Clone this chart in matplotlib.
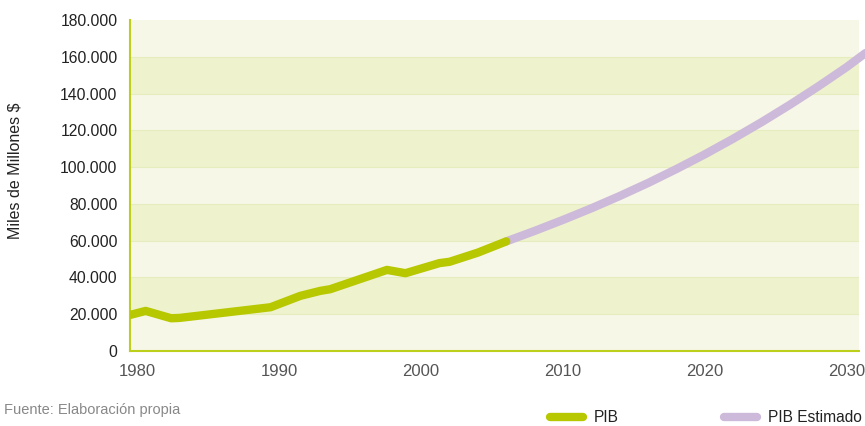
import matplotlib
matplotlib.use("Agg")
import matplotlib.pyplot as plt
from matplotlib.ticker import FuncFormatter

plt.rcParams['font.family'] = ['Liberation Sans', 'DejaVu Sans']

# PIB observado (miles de millones $)
pib_years = [1979.5, 1980.6, 1982.4, 1983.0, 1989.4, 1991.5, 1992.9, 1993.6,
             1997.6, 1998.9, 2001.3, 2002.0, 2004.0, 2006.0]
pib_values = [19600, 21800, 17800, 18000, 23800, 30000, 32700, 33600,
              44100, 42300, 47800, 48500, 53500, 59600]

# PIB estimado
est_years = [2006.0, 2008, 2010, 2012, 2014, 2016, 2018, 2020, 2022, 2024,
             2026, 2028, 2030, 2031.3]
est_values = [59600, 65300, 71300, 77600, 84300, 91400, 99000, 107000,
              115500, 124500, 134000, 144000, 154500, 162000]

x_ticks = [1980, 1990, 2000, 2010, 2020, 2030]
y_ticks = [0, 20000, 40000, 60000, 80000, 100000, 120000, 140000, 160000, 180000]

GREEN = "#b7c800"
PURPLE = "#cdb9d9"
SPINE = "#bccf1a"
BAND_LIGHT = "#f6f7e7"
BAND_DARK = "#eef3ce"

fig = plt.figure(figsize=(8.65, 4.26), dpi=100)
ax = fig.add_axes([130 / 865, 1 - 351 / 426, 729 / 865, 331 / 426])

ax.set_xlim(1979.5, 2030.85)
ax.set_ylim(0, 180000)

# alternating horizontal bands
for i in range(len(y_ticks) - 1):
    ax.axhspan(y_ticks[i], y_ticks[i + 1],
               color=BAND_DARK if i % 2 == 1 else BAND_LIGHT, lw=0, zorder=0)
for y in y_ticks[1:-1]:
    ax.axhline(y, color="#e5edbe", lw=0.8, zorder=0.5)

ax.plot(est_years, est_values, color=PURPLE, lw=6, solid_capstyle="round",
        solid_joinstyle="round", clip_on=False, zorder=3, label="PIB Estimado")
ax.plot(pib_years, pib_values, color=GREEN, lw=6, solid_capstyle="round",
        solid_joinstyle="round", zorder=4, label="PIB")

for s in ["top", "right"]:
    ax.spines[s].set_visible(False)
for s in ["left", "bottom"]:
    ax.spines[s].set_color(SPINE)
    ax.spines[s].set_linewidth(1.5)

ax.set_xticks(x_ticks)
ax.set_yticks(y_ticks)
ax.yaxis.set_major_formatter(FuncFormatter(
    lambda v, p: "0" if v == 0 else f"{int(v):,}".replace(",", ".")))
ax.tick_params(axis="y", length=0, pad=9, labelsize=11.3, labelcolor="#222222")
ax.tick_params(axis="x", length=0, pad=9, labelsize=12, labelcolor="#555555")

fig.text(15 / 865, 1 - 171 / 426, "Miles de Millones $", rotation=90,
         ha="center", va="center", fontsize=11.5, color="#222222")
fig.text(4 / 865, 1 - 410 / 426, "Fuente: Elaboración propia",
         ha="left", va="center", fontsize=10.5, color="#888888")

handles, labels = ax.get_legend_handles_labels()
leg = fig.legend(handles[::-1], labels[::-1], ncol=2, frameon=False,
                 loc="center left", bbox_to_anchor=(545 / 865, 1 - 418 / 426),
                 fontsize=11.2, handlelength=2.15, handletextpad=0.7,
                 columnspacing=6.75, labelcolor="#222222",
                 borderaxespad=0, borderpad=0.3)

fig.savefig("out.png", dpi=100)
